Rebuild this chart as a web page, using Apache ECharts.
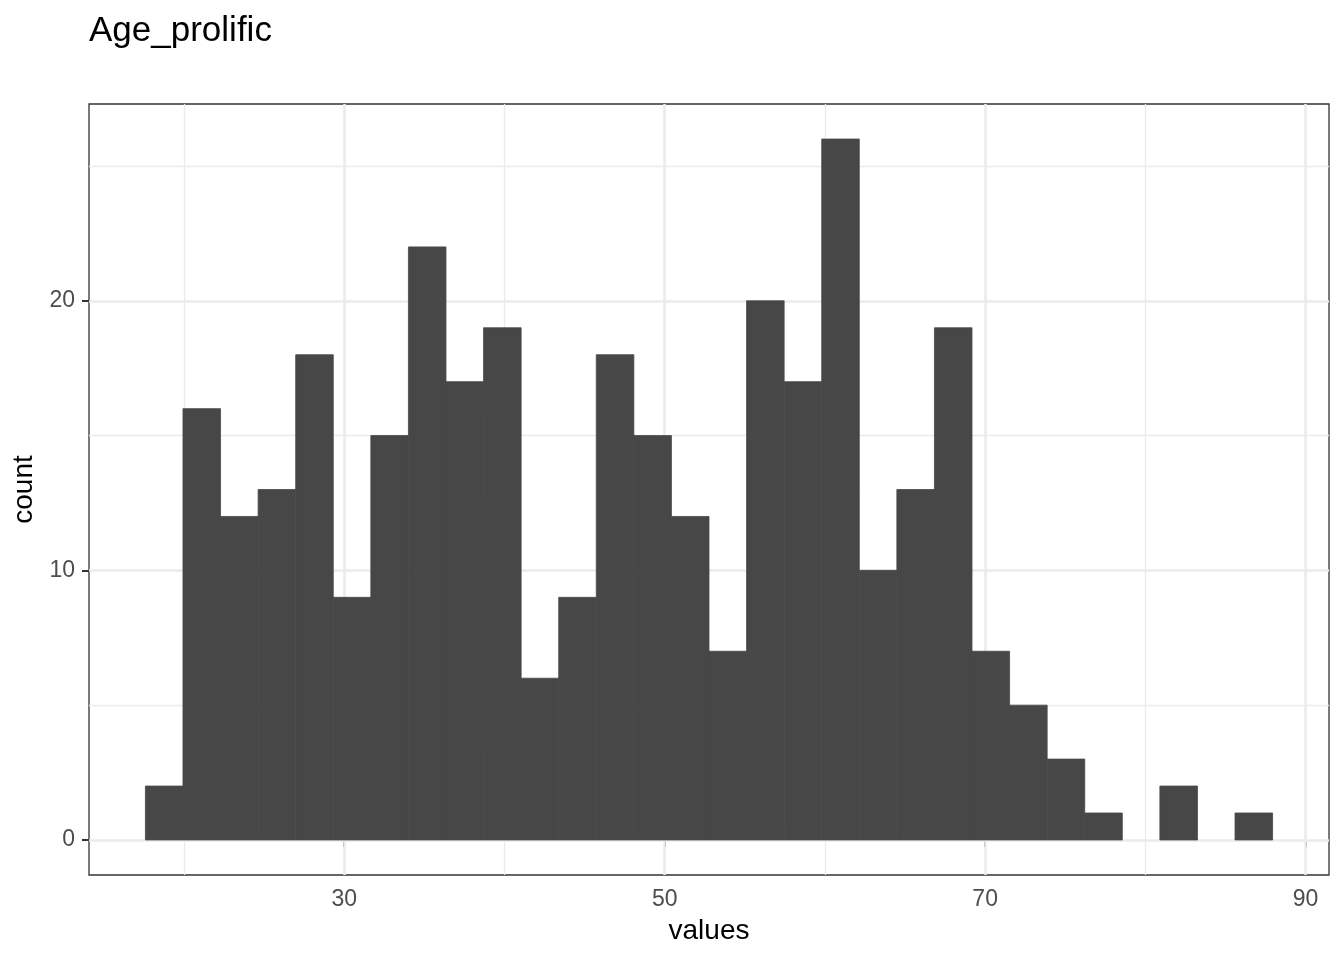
<!DOCTYPE html>
<html>
<head>
<meta charset="utf-8">
<title>Age_prolific</title>
<script src="https://cdn.jsdelivr.net/npm/echarts@6/dist/echarts.min.js"></script>
<style>
  html, body { margin: 0; padding: 0; background: #fff; }
  #main { width: 1344px; height: 960px; }
</style>
</head>
<body>
<div id="main"></div>
<script>
// histogram: 30 bins
var binStart = 17.59;
var binWidth = 2.345;
var counts = [2, 16, 12, 13, 18, 9, 15, 22, 17, 19,
              6, 9, 18, 15, 12, 7, 20, 17, 26, 10,
              13, 19, 7, 5, 3, 1, 0, 2, 0, 1];
var xTicks = [30, 50, 70, 90];
var xMinor = [20, 40, 60, 80];
var yTicks = [0, 10, 20];
var yMinor = [5, 15, 25];

var FONT = "'Liberation Sans', Arial, Helvetica, sans-serif";

var bins = counts.map(function (c, i) {
  var x0 = binStart + i * binWidth;
  return [x0, x0 + binWidth, c];
});

var chart = echarts.init(document.getElementById('main'));

function gridLine(axis, v, w) {
  var d = { lineStyle: { color: '#EBEBEB', width: w, type: 'solid' } };
  d[axis] = v;
  return d;
}
var gridData = []
  .concat(xMinor.map(function (v) { return gridLine('xAxis', v, 1.3); }))
  .concat(yMinor.map(function (v) { return gridLine('yAxis', v, 1.3); }))
  .concat(xTicks.map(function (v) { return gridLine('xAxis', v, 2.6); }))
  .concat(yTicks.map(function (v) { return gridLine('yAxis', v, 2.6); }));

var option = {
  backgroundColor: '#fff',
  animation: false,
  title: {
    text: 'Age_prolific',
    left: 84,
    top: 9,
    textStyle: { fontFamily: FONT, fontSize: 35, fontWeight: 'normal', color: '#000' }
  },
  grid: {
    left: 89, right: 15, top: 104, bottom: 85,
    show: true, borderColor: '#333', borderWidth: 1.3, backgroundColor: '#fff'
  },
  xAxis: {
    type: 'value',
    min: 14.07, max: 91.46,
    name: 'values',
    nameLocation: 'middle',
    nameGap: 42,
    nameTextStyle: { fontFamily: FONT, fontSize: 28, color: '#000', verticalAlign: 'top' },
    axisLine: { show: false },
    splitLine: { show: false },
    axisTick: { show: true, length: 7, customValues: xTicks, lineStyle: { color: '#333', width: 2 } },
    axisLabel: { customValues: xTicks, margin: 13, fontFamily: FONT, fontSize: 23, color: '#4D4D4D' }
  },
  yAxis: {
    type: 'value',
    min: -1.3, max: 27.3,
    name: 'count',
    nameLocation: 'middle',
    nameGap: 48,
    nameRotate: 90,
    nameTextStyle: { fontFamily: FONT, fontSize: 28, color: '#000' },
    axisLine: { show: false },
    splitLine: { show: false },
    axisTick: { show: true, length: 7, customValues: yTicks, lineStyle: { color: '#333', width: 2 } },
    axisLabel: { customValues: yTicks, margin: 14, fontFamily: FONT, fontSize: 23, color: '#4D4D4D' }
  },
  series: [
    {
      type: 'line',
      data: [],
      z: 1,
      silent: true,
      markLine: {
        silent: true,
        symbol: ['none', 'none'],
        label: { show: false },
        animation: false,
        data: gridData
      }
    },
    {
      type: 'custom',
      z: 5,
      data: bins,
      encode: { x: [0, 1], y: 2 },
      renderItem: function (params, api) {
        if (!api.value(2)) return null;
        var p0 = api.coord([api.value(0), api.value(2)]);
        var p1 = api.coord([api.value(1), 0]);
        return {
          type: 'rect',
          shape: { x: p0[0], y: p0[1], width: p1[0] - p0[0], height: p1[1] - p0[1] },
          style: { fill: '#474747', stroke: '#474747', lineWidth: 0.8 }
        };
      }
    }
  ]
};

chart.setOption(option);
</script>
</body>
</html>
